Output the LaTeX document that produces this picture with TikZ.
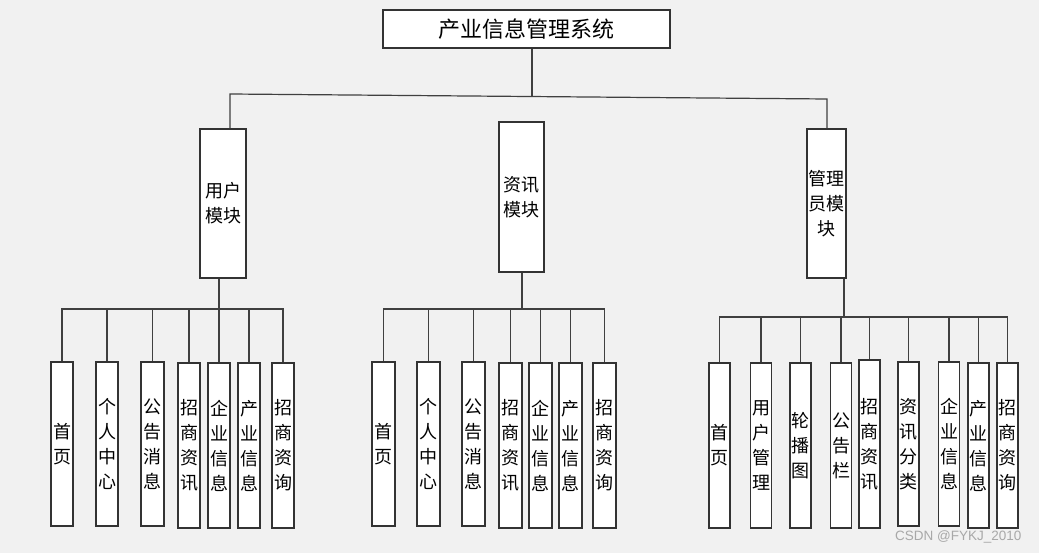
\documentclass[tikz,border=0pt]{standalone}
\usepackage{fontspec}
\setmainfont{Noto Sans CJK SC}
\newfontfamily\wmfont{Liberation Sans}
\definecolor{bg}{HTML}{F1F1F1}
\definecolor{edge}{HTML}{333333}
\definecolor{wmgray}{HTML}{A8A8A8}
\newcommand\leafnode[5]{\node[box, minimum width=#3pt, minimum height=#4pt] (#1) at (#2) {#5};}
\begin{document}
\begin{tikzpicture}[x=1pt,y=-1pt,
  box/.style={draw=edge, line width=1.2pt, fill=white, inner sep=0pt, align=center,
              font=\fontsize{18}{25}\selectfont},
  link/.style={draw=black!75, line width=1.2pt},
]
\fill[bg] (0,0) rectangle (1039,553);
\useasboundingbox (0,0) rectangle (1039,553);

% title
\node[box, minimum width=287pt, minimum height=38pt, font=\fontsize{22}{26}\selectfont] (top) at (526.5,29) {产业信息管理系统};

% modules
\leafnode{m1}{223,203.5}{46}{149}{用户\\模块}
\leafnode{m2}{521.5,197}{45}{150}{资讯\\模块}
\leafnode{m3}{826.5,203.5}{39}{149}{管理\\员模\\块}

% group 1
\leafnode{a1}{62,444}{22}{164}{首\\页}
\leafnode{a2}{107,444}{22}{164}{个\\人\\中\\心}
\leafnode{a3}{152.5,444}{23}{164}{公\\告\\消\\息}
\leafnode{a4}{189,445.5}{22}{165}{招\\商\\资\\讯}
\leafnode{a5}{219,445.5}{22}{165}{企\\业\\信\\息}
\leafnode{a6}{249,445.5}{22}{165}{产\\业\\信\\息}
\leafnode{a7}{283,445.5}{22}{165}{招\\商\\资\\询}

% group 2
\leafnode{c1}{383.5,444}{23}{164}{首\\页}
\leafnode{c2}{428.5,444}{23}{164}{个\\人\\中\\心}
\leafnode{c3}{473.5,444}{23}{164}{公\\告\\消\\息}
\leafnode{c4}{510.5,445.5}{23}{165}{招\\商\\资\\讯}
\leafnode{c5}{540.5,445.5}{23}{165}{企\\业\\信\\息}
\leafnode{c6}{570.5,445.5}{23}{165}{产\\业\\信\\息}
\leafnode{c7}{604.5,445.5}{23}{165}{招\\商\\资\\询}

% group 3
\leafnode{d1}{719.5,445.5}{21}{165}{首\\页}
\leafnode{d2}{761,445.5}{21}{165}{用\\户\\管\\理}
\leafnode{d3}{800.5,445.5}{21}{165}{轮\\播\\图}
\leafnode{d4}{841,445.5}{21}{165}{公\\告\\栏}
\leafnode{d5}{869.5,444}{21}{168}{招\\商\\资\\讯}
\leafnode{d6}{908.5,444}{21}{164}{资\\讯\\分\\类}
\leafnode{d7}{949,444}{21}{164}{企\\业\\信\\息}
\leafnode{d8}{978.5,445.5}{21}{165}{产\\业\\信\\息}
\leafnode{d9}{1007.5,445.5}{21}{165}{招\\商\\资\\询}

% connectors top level
\coordinate (tb) at (532,96.5);
\coordinate (busL) at (230,94);
\coordinate (busR) at (827,99);
\draw[link] (top.south -| tb) -- (tb);
\draw[link] (m1.north -| busL) -- (busL) -- (busR) -- (m3.north -| busR);

% group buses
\coordinate (b1) at (219,309);
\coordinate (b2) at (522,309);
\coordinate (b3) at (844,317);
\draw[link] (m1.south -| b1) -- (b1);
\draw[link] (m2.south -| b2) -- (b2);
\draw[link] (m3.south -| b3) -- (b3);
\foreach \i in {1,...,7} {\draw[link] (a\i.north) |- (b1);}
\foreach \i in {1,...,7} {\draw[link] (c\i.north) |- (b2);}
\foreach \i in {1,...,9} {\draw[link] (d\i.north) |- (b3);}

% watermark
\node[anchor=west, inner sep=0pt, text=wmgray, font=\wmfont\fontsize{13.5}{16}\selectfont] (wm) at (895,537) {CSDN @FYKJ\_2010};
\end{tikzpicture}
\end{document}
